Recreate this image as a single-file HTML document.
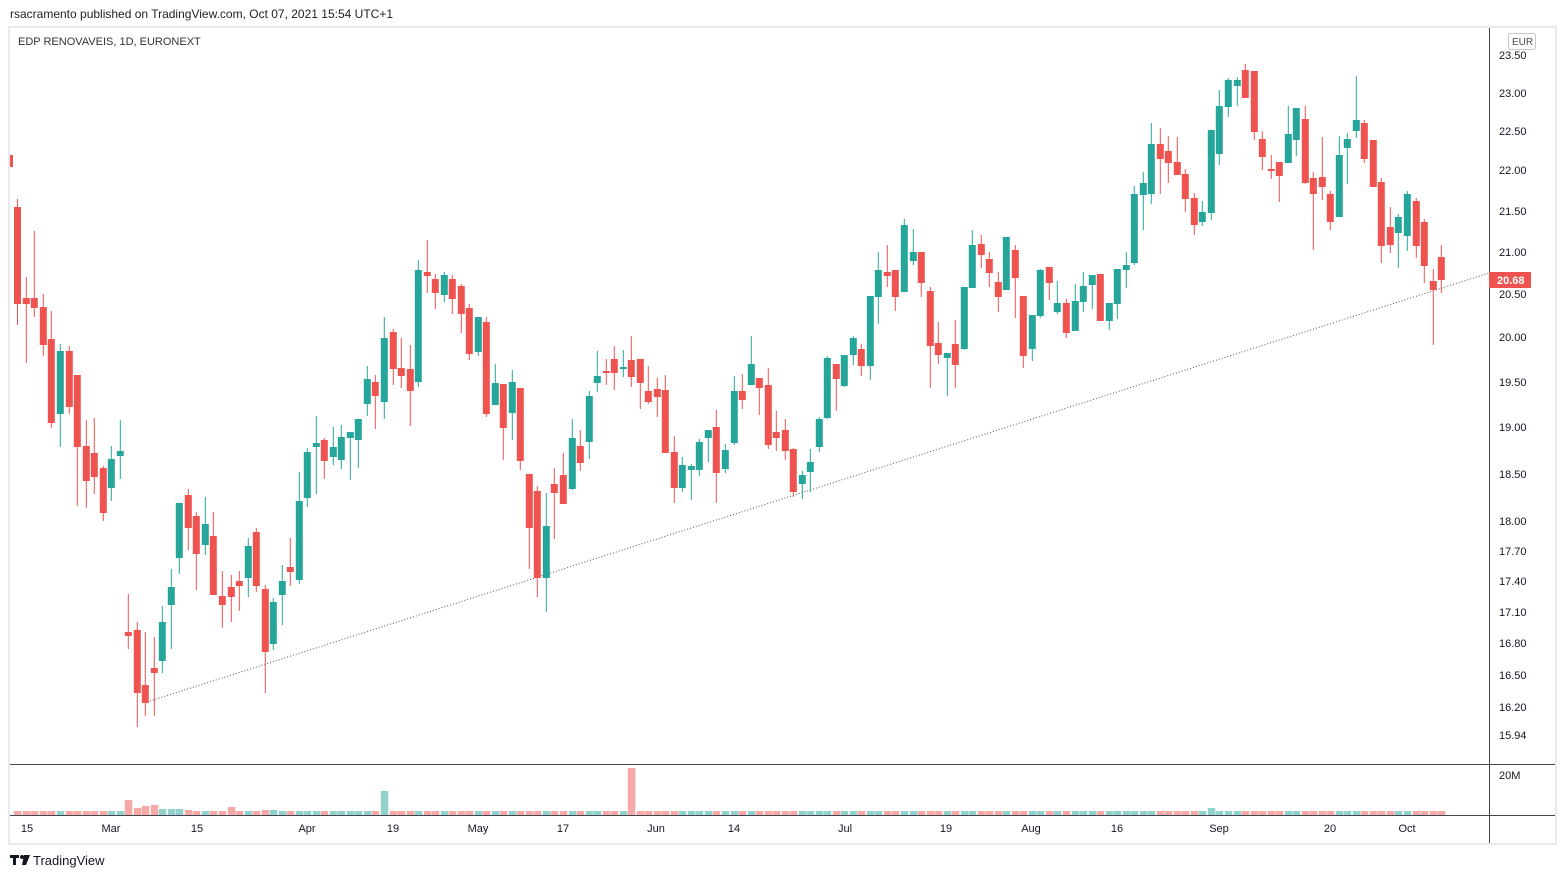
<!DOCTYPE html>
<html><head><meta charset="utf-8"><style>
body{margin:0;width:1565px;height:878px;background:#fff;font-family:"Liberation Sans",sans-serif;overflow:hidden;position:relative}
.t{position:absolute;font-size:11px;color:#4a4a4a;white-space:nowrap}
</style></head><body>
<div class="t" style="left:10px;top:7px;font-size:12px;color:#222">rsacramento published on TradingView.com, Oct 07, 2021 15:54 UTC+1</div>
<svg id="s" width="1565" height="878" style="position:absolute;left:0;top:0">
<rect x="9" y="27" width="1547" height="817" fill="none" stroke="#e9eaee" stroke-width="2"/>
<line x1="10" y1="764.5" x2="1555" y2="764.5" stroke="#434651" stroke-width="1"/>
<line x1="10" y1="815.5" x2="1555" y2="815.5" stroke="#434651" stroke-width="1"/>
<line x1="1489.5" y1="28" x2="1489.5" y2="843" stroke="#434651" stroke-width="1"/>
<rect x="10" y="155" width="3" height="12" fill="#ef5350"/>
<line x1="150" y1="701" x2="1489" y2="273" stroke="#555" stroke-width="1" stroke-dasharray="1,2"/>
<g id="c"></g>
<rect x="1489" y="272" width="42" height="16" fill="#ef5350"/>
<text x="1497" y="284" font-size="11" font-weight="bold" fill="#fff" font-family="Liberation Sans, sans-serif">20.68</text>
<rect x="1508.5" y="33.5" width="27" height="16" fill="#fff" stroke="#c8c8cc" rx="2"/>
<text x="1512" y="45" font-size="10" fill="#4a4a4a" font-family="Liberation Sans, sans-serif">EUR</text>
<g font-size="11" fill="#131722" font-family="Liberation Sans, sans-serif">
<text x="1499" y="59">23.50</text><text x="1499" y="97">23.00</text><text x="1499" y="135">22.50</text>
<text x="1499" y="174">22.00</text><text x="1499" y="215">21.50</text><text x="1499" y="256">21.00</text>
<text x="1499" y="298">20.50</text><text x="1499" y="341">20.00</text><text x="1499" y="386">19.50</text>
<text x="1499" y="431">19.00</text><text x="1499" y="478">18.50</text><text x="1499" y="525">18.00</text>
<text x="1499" y="555">17.70</text><text x="1499" y="585">17.40</text><text x="1499" y="616">17.10</text>
<text x="1499" y="647">16.80</text><text x="1499" y="679">16.50</text><text x="1499" y="711">16.20</text>
<text x="1499" y="739">15.94</text><text x="1499" y="779">20M</text>
</g>
<g font-size="11" fill="#131722" font-family="Liberation Sans, sans-serif" text-anchor="middle">
<text x="27" y="832">15</text><text x="111" y="832">Mar</text><text x="197" y="832">15</text>
<text x="307" y="832">Apr</text><text x="393" y="832">19</text><text x="478" y="832">May</text>
<text x="563" y="832">17</text><text x="656" y="832">Jun</text><text x="734" y="832">14</text>
<text x="845" y="832">Jul</text><text x="946" y="832">19</text><text x="1031" y="832">Aug</text>
<text x="1117" y="832">16</text><text x="1219" y="832">Sep</text><text x="1330" y="832">20</text>
<text x="1407" y="832">Oct</text>
</g>
<text x="18" y="45" font-size="11" fill="#333" font-family="Liberation Sans, sans-serif">EDP RENOVAVEIS, 1D, EURONEXT</text>
<g fill="#131722"><rect x="10" y="855" width="9" height="3"/><rect x="13" y="855" width="3" height="10"/><circle cx="22" cy="857" r="2"/><polygon points="24,855 30,855 26,865 22,865"/></g>
<text x="33" y="865" font-size="13" fill="#131722" font-family="Liberation Sans, sans-serif">TradingView</text>
</svg>
<script>
var D=[[17.5,199,325,207,304,0],[26.3,277,363,298,304,0],[34.3,231,317,298,308,0],[43.3,294,356,307,345,0],[51.3,311,428,339,423,0],[60.3,344,447,351,414,1],[69.3,346,414,351,407,0],[77.3,375,506,375,447,0],[86.3,420,508,446,481,0],[94.3,418,494,453,477,0],[103.3,466,521,468,513,0],[111.3,446,501,459,488,1],[120.3,420,479,451,456,1],[128.3,594,649,632,636,0],[137.3,622,727,630,693,0],[145.3,632,716,685,703,0],[154.3,637,716,668,673,0],[162.3,606,673,622,661,1],[171.3,569,649,587,605,1],[179.3,503,574,503,558,1],[188.3,489,550,495,528,0],[196.3,512,590,516,554,0],[205.3,497,555,524,545,1],[213.3,512,595,536,595,0],[222.3,571,628,596,605,0],[231.3,575,622,587,597,0],[239.3,571,611,581,586,0],[248.3,538,597,546,578,1],[256.3,528,592,532,586,0],[265.3,585,693,589,652,0],[273.3,598,650,602,644,1],[282.3,565,625,581,595,1],[290.3,538,586,567,572,0],[299.3,472,584,501,580,1],[307.3,448,507,452,498,1],[316.3,416,494,443,447,1],[324.3,438,479,440,461,0],[333.3,427,465,447,457,1],[341.3,425,469,437,460,1],[350.3,432,480,432,438,1],[358.3,419,468,419,440,1],[367.3,366,416,379,404,1],[375.3,375,429,382,396,0],[384.3,317,419,338,402,1],[393.3,329,385,332,369,0],[401.3,338,388,368,376,0],[410.3,345,426,369,391,0],[418.3,260,387,270,382,1],[427.3,240,293,272,276,0],[435.3,274,309,279,293,0],[444.3,272,302,275,295,1],[452.3,275,314,279,299,0],[461.3,284,333,286,314,0],[469.3,304,360,308,354,0],[478.3,317,356,317,352,1],[486.3,317,417,322,414,0],[495.3,364,405,383,405,1],[503.3,384,460,384,428,0],[512.3,370,440,382,413,1],[520.3,388,470,388,461,0],[529.3,474,569,474,528,0],[537.3,486,597,491,578,0],[546.3,493,612,526,578,1],[554.3,468,539,484,493,0],[563.3,453,504,475,504,0],[572.3,419,490,438,489,1],[580.3,430,471,446,463,0],[589.3,391,459,396,442,1],[597.3,351,392,376,383,1],[606.3,359,385,371,373,0],[614.3,346,390,359,373,0],[623.3,350,377,367,369,1],[631.3,336,387,360,377,0],[640.3,359,409,359,383,0],[648.3,366,404,391,402,0],[657.3,378,417,389,397,0],[665.3,375,453,390,453,0],[674.3,436,503,452,488,0],[682.3,457,492,465,488,1],[691.3,464,500,466,470,1],[699.3,439,476,442,470,1],[708.3,430,462,430,438,1],[716.3,410,503,427,473,0],[725.3,444,473,450,469,1],[734.3,376,445,391,443,1],[742.3,374,409,391,400,0],[751.3,336,385,364,385,1],[759.3,378,415,378,388,0],[768.3,368,449,385,445,0],[776.3,411,451,432,438,0],[785.3,419,460,430,451,0],[793.3,448,497,449,492,0],[802.3,471,499,475,484,1],[810.3,449,492,462,472,1],[819.3,417,452,419,447,1],[827.3,356,419,358,418,1],[836.3,364,411,364,379,0],[844.3,355,387,355,386,1],[853.3,336,365,338,355,1],[861.3,344,376,349,366,0],[870.3,296,380,296,366,1],[878.3,252,324,270,297,1],[887.3,245,287,272,276,0],[895.3,270,311,270,297,0],[904.3,219,292,225,292,1],[913.3,229,265,252,261,1],[921.3,252,297,252,283,0],[930.3,287,388,291,346,0],[938.3,322,364,343,355,0],[947.3,353,396,353,358,1],[955.3,320,388,344,365,0],[964.3,287,350,287,349,1],[972.3,230,288,245,288,1],[981.3,235,268,244,255,0],[989.3,252,287,259,273,0],[998.3,272,312,282,297,0],[1006.3,237,290,237,290,1],[1015.3,245,318,250,278,0],[1023.3,296,368,296,356,0],[1032.3,315,361,315,349,1],[1040.3,269,318,270,316,1],[1049.3,267,300,267,283,0],[1057.3,281,314,303,312,1],[1066.3,299,338,303,333,0],[1075.3,284,331,301,331,1],[1083.3,272,312,286,302,1],[1092.3,275,309,275,285,1],[1100.3,274,321,274,321,0],[1109.3,303,330,303,321,1],[1117.3,269,319,269,304,1],[1126.3,252,288,265,270,1],[1134.3,186,265,194,263,1],[1143.3,172,230,183,195,1],[1151.3,123,204,144,194,1],[1160.3,128,194,144,159,0],[1168.3,136,183,151,163,0],[1177.3,137,175,162,175,0],[1185.3,169,212,174,199,0],[1194.3,193,235,198,225,0],[1202.3,201,226,212,222,1],[1211.3,130,220,130,213,1],[1219.3,90,165,106,154,1],[1228.3,78,117,80,107,1],[1237.3,77,106,80,86,1],[1245.3,64,98,70,98,0],[1254.3,71,140,71,132,0],[1262.3,131,170,139,157,0],[1271.3,155,179,169,171,0],[1279.3,162,202,162,176,0],[1288.3,106,163,134,163,1],[1296.3,108,156,108,140,1],[1305.3,106,184,119,183,0],[1313.3,172,250,178,194,0],[1322.3,137,200,177,187,0],[1330.3,191,230,194,222,0],[1339.3,136,217,155,217,1],[1347.3,133,184,139,148,1],[1356.3,76,138,120,131,1],[1364.3,120,163,123,159,0],[1373.3,140,187,140,187,0],[1381.3,178,263,182,246,0],[1390.3,207,253,227,245,0],[1398.3,214,268,217,233,1],[1407.3,191,251,194,236,1],[1416.3,198,258,201,246,0],[1424.3,219,283,222,266,0],[1433.3,269,345,281,290,0],[1441.3,245,293,257,280,0]];
var V={14:15,15:7,16:9,17:10,18:6,19:6,20:6,21:5,26:8,44:24,73:47,141:7,30:5,31:5};
var g=document.getElementById('c'),h='';
D.forEach(function(d,i){var c=d[5]?'#26a69a':'#ef5350',vc=d[5]?'#92d2cc':'#f7a9a7';
var x=d[0];h+='<line x1="'+x+'" y1="'+d[1]+'" x2="'+x+'" y2="'+d[2]+'" stroke="'+c+'" stroke-width="1"/>';
var bh=Math.max(1,d[4]-d[3]);h+='<rect x="'+(x-3.5)+'" y="'+d[3]+'" width="7" height="'+bh+'" fill="'+c+'"/>';
var vh=V[i+1]||4;h+='<rect x="'+(x-3.5)+'" y="'+(815-vh)+'" width="7.5" height="'+vh+'" fill="'+vc+'"/>';});
g.innerHTML=h;
</script>
</body></html>
